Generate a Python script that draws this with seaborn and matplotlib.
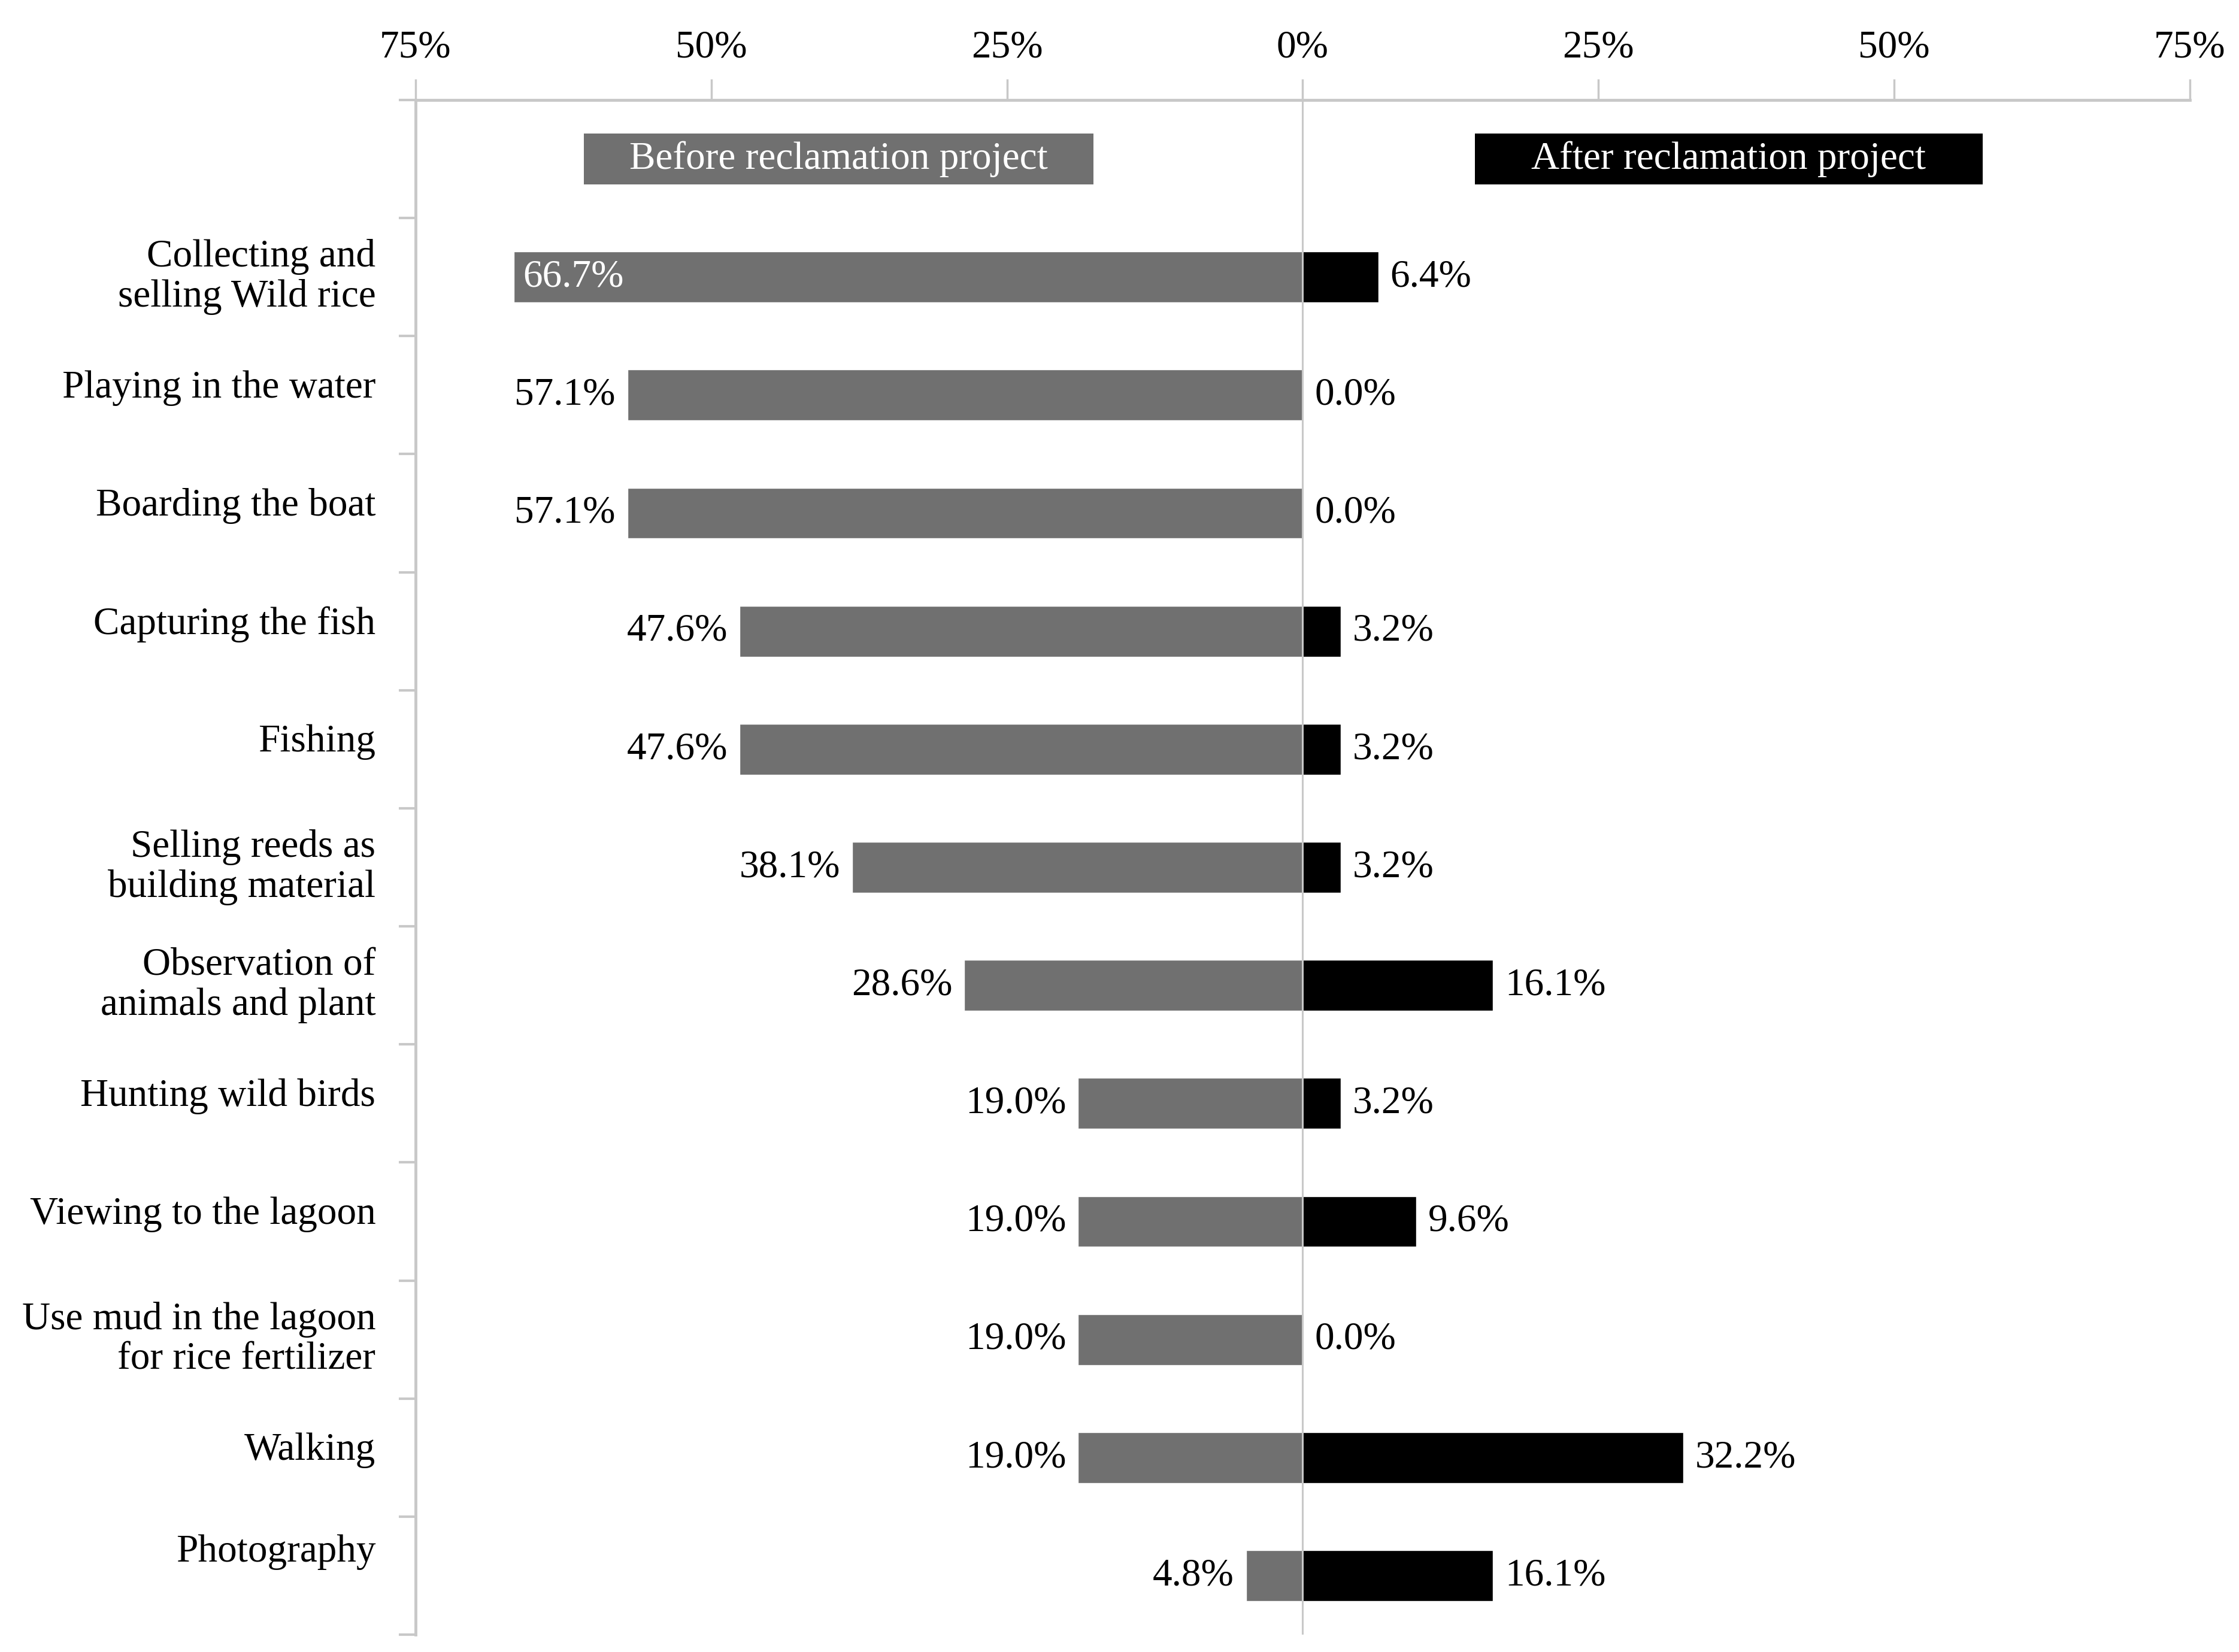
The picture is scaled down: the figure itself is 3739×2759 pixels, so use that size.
import numpy as np
import pandas as pd
import matplotlib
matplotlib.use("Agg")
import matplotlib.pyplot as plt
import matplotlib.transforms as mtrans
from matplotlib.patches import Rectangle
import seaborn as sns

# ---------------- data ----------------
categories = [
    "Collecting and\nselling Wild rice",
    "Playing in the water",
    "Boarding the boat",
    "Capturing the fish",
    "Fishing",
    "Selling reeds as\nbuilding material",
    "Observation of\nanimals and plant",
    "Hunting wild birds",
    "Viewing to the lagoon",
    "Use mud in the lagoon\nfor rice fertilizer",
    "Walking",
    "Photography",
]
before = [66.7, 57.1, 57.1, 47.6, 47.6, 38.1, 28.6, 19.0, 19.0, 19.0, 19.0, 4.8]
after = [6.4, 0.0, 0.0, 3.2, 3.2, 3.2, 16.1, 3.2, 9.6, 0.0, 32.2, 16.1]
series_names = ["Before reclamation project", "After reclamation project"]
tick_values = [-75, -50, -25, 0, 25, 50, 75]
tick_labels = ["75%", "50%", "25%", "0%", "25%", "50%", "75%"]

# ---------------- style ----------------
sns.set_theme(style="white")
plt.rcParams["font.family"] = ["Liberation Serif", "DejaVu Serif"]

GREY = "#707070"
BLACK = "#000000"
AXIS = "#c8c8c8"
FS = 47

fig = plt.figure(figsize=(37.39, 27.59), dpi=100)
ax = fig.add_axes([0.1856, 0.0105, 0.978 - 0.1856, 0.9395 - 0.0105])

df = pd.DataFrame({"category": categories, "before": before, "after": after})
df["before_neg"] = -df["before"]

sns.barplot(data=df, x="before_neg", y="category", order=categories, color=GREY,
            saturation=1, width=0.43, edgecolor="white", linewidth=1, ax=ax, zorder=2)
sns.barplot(data=df, x="after", y="category", order=categories, color=BLACK,
            saturation=1, width=0.43, edgecolor="white", linewidth=1, ax=ax, zorder=2)

ax.set_xlim(-75, 75)
ax.set_ylim(11.5, -1.5)
ax.set_xlabel("")
ax.set_ylabel("")

# zero line
ax.axvline(0, color=AXIS, lw=2.2, zorder=3)

# top axis
ax.xaxis.tick_top()
ax.set_xticks(tick_values)
ax.set_xticklabels(tick_labels)
ax.tick_params(axis="x", top=True, bottom=False, length=25, width=2.5,
               color=AXIS, pad=16, labelsize=FS, labelcolor="black")

# left axis with category-boundary ticks
ax.set_yticks(np.arange(-1.5, 12, 1.0))
ax.set_yticklabels([])
ax.tick_params(axis="y", left=True, length=20, width=3, color=AXIS)

for side in ["right", "bottom"]:
    ax.spines[side].set_visible(False)
for side in ["top", "left"]:
    ax.spines[side].set_visible(True)
    ax.spines[side].set_color(AXIS)
    ax.spines[side].set_linewidth(3.5)

# category labels
trans = mtrans.blended_transform_factory(ax.transAxes, ax.transData)
for i, cat in enumerate(categories):
    off = 0.0 if "\n" in cat else -0.06
    if cat == "Photography":
        off = -0.2
    ax.text(-0.0225, i + off, cat, transform=trans, ha="right", va="center",
            multialignment="right", fontsize=FS, linespacing=1.15, color="black")

# value labels
for i, (b, a) in enumerate(zip(before, after)):
    if b > 60:
        ax.text(-b + 0.8, i, f"{b:.1f}%", ha="left", va="center", fontsize=FS,
                color="white", zorder=4)
    else:
        ax.text(-b - 1.0, i, f"{b:.1f}%", ha="right", va="center", fontsize=FS,
                color="black", zorder=4)
    ax.text(a + 1.0, i, f"{a:.1f}%", ha="left", va="center", fontsize=FS,
            color="black", zorder=4)

# legend boxes (top row)
legend_boxes = [(-60.76, -17.68, GREY), (14.54, 57.5, BLACK)]
for (x0, x1, col), name in zip(legend_boxes, series_names):
    ax.add_patch(Rectangle((x0, -1 - 0.215), x1 - x0, 0.43, facecolor=col,
                           edgecolor="none", zorder=2))
    ax.text((x0 + x1) / 2, -1, name, ha="center", va="center", fontsize=FS,
            color="white", zorder=4)

fig.savefig("out.png", dpi=100, facecolor="white")
